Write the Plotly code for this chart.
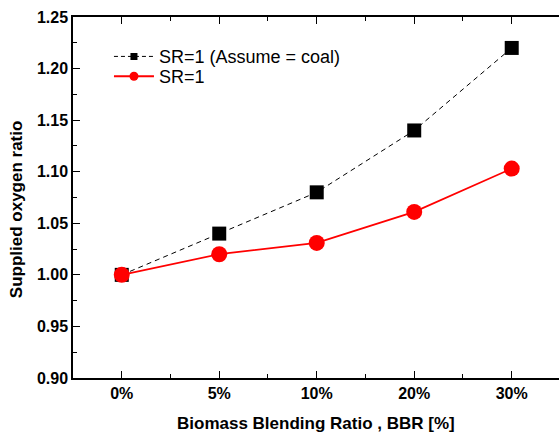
import plotly.graph_objects as go

categories = ["0%", "5%", "10%", "20%", "30%"]
sr_coal = [1.00, 1.04, 1.08, 1.14, 1.22]
sr_one = [1.00, 1.020, 1.031, 1.061, 1.103]
series_names = ["SR=1 (Assume = coal)", "SR=1"]

xpos = list(range(len(categories)))
FONT = "Liberation Sans, Arial, sans-serif"

fig = go.Figure()
fig.add_trace(go.Scatter(
    x=xpos, y=sr_coal, mode="lines+markers", showlegend=False,
    line=dict(color="black", width=1, dash="5px,4px"),
    marker=dict(symbol="square", size=14, color="black")))
fig.add_trace(go.Scatter(
    x=xpos, y=sr_one, mode="lines+markers", showlegend=False,
    line=dict(color="#ff0000", width=1.8),
    marker=dict(symbol="circle", size=16, color="#ff0000")))
# legend entries with small markers
fig.add_trace(go.Scatter(
    x=[None], y=[None], mode="lines+markers", name=series_names[0], legend="legend",
    line=dict(color="black", width=1, dash="4px,3px"),
    marker=dict(symbol="square", size=7, color="black")))
fig.add_trace(go.Scatter(
    x=[None], y=[None], mode="lines+markers", name=series_names[1], legend="legend2",
    line=dict(color="#ff0000", width=2),
    marker=dict(symbol="circle", size=9, color="#ff0000")))

leg_common = dict(xanchor="left", yanchor="middle",
                  font=dict(size=18, family=FONT), bgcolor="rgba(0,0,0,0)",
                  itemwidth=40)

fig.update_layout(
    width=559, height=435,
    margin=dict(l=73, r=0, t=17, b=57),
    paper_bgcolor="white", plot_bgcolor="white",
    font=dict(family=FONT, color="black"),
    legend=dict(x=0.074, y=0.890, **leg_common),
    legend2=dict(x=0.074, y=0.835, **leg_common),
    xaxis=dict(
        range=[-0.5, 4.485], tickmode="array", tickvals=xpos, ticktext=categories,
        ticks="inside", ticklen=7, tickwidth=1, tickcolor="black",
        showline=True, linecolor="black", linewidth=1.5, mirror="ticks",
        showgrid=False, zeroline=False,
        tickfont=dict(size=16, family=FONT, weight="bold"),
        minor=dict(tickmode="array", tickvals=[0.5, 1.5, 2.5, 3.5], ticks="inside",
                   ticklen=4, tickcolor="black", showgrid=False),
    ),
    yaxis=dict(
        range=[0.90, 1.25], tickmode="linear", tick0=0.90, dtick=0.05,
        tickformat=".2f",
        ticks="inside", ticklen=7, tickwidth=1, tickcolor="black",
        showline=True, linecolor="black", linewidth=1.5, mirror=False,
        showgrid=False, zeroline=False,
        tickfont=dict(size=16, family=FONT, weight="bold"),
        minor=dict(dtick=0.025, ticks="inside", ticklen=4, tickcolor="black", showgrid=False),
    ),
    annotations=[
        dict(text="<b>Biomass Blending Ratio , BBR [%]</b>", xref="paper", yref="paper",
             x=0.5, y=-0.1247, xanchor="center", yanchor="middle", showarrow=False,
             font=dict(size=17, family=FONT)),
        dict(text="<b>Supplied oxygen ratio</b>", xref="paper", yref="paper",
             x=-0.117, y=0.468, xanchor="center", yanchor="middle", showarrow=False,
             textangle=-90, font=dict(size=17, family=FONT)),
    ],
)

fig.write_html("out.html")
